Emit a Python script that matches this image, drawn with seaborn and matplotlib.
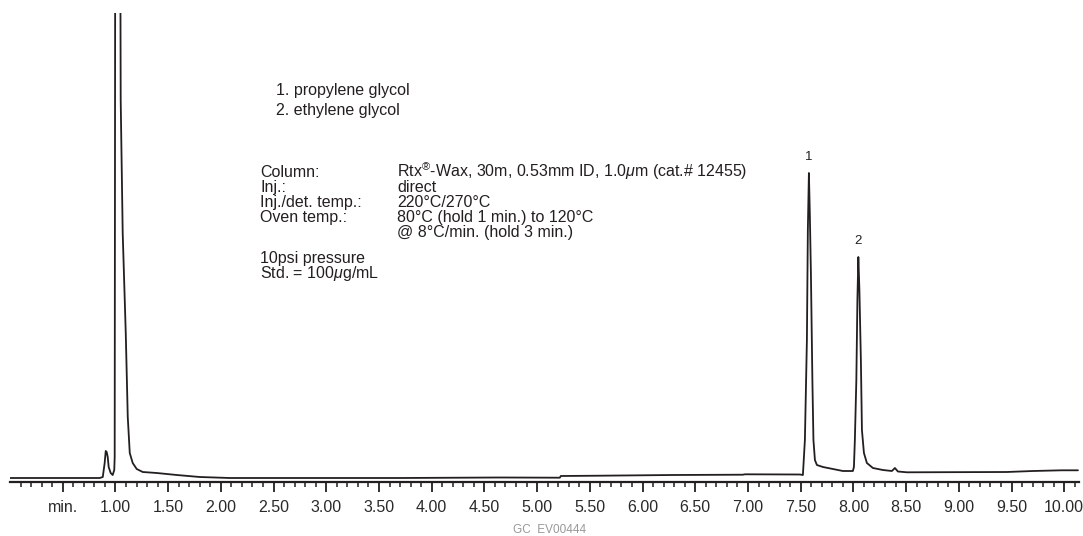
import numpy as np
import pandas as pd
import seaborn as sns
import matplotlib.pyplot as plt
from matplotlib.ticker import FixedLocator, MultipleLocator

# chromatogramme (temps en min, reponse en unites arbitraires)
retention_min = [0.000, 0.756, 0.851, 0.880, 0.898, 0.908, 0.917, 0.927, 0.936, 0.955,
                 0.974, 0.989, 0.993, 1.012, 1.050, 1.069, 1.098, 1.117, 1.136, 1.164,
                 1.202, 1.259, 1.392, 1.582, 1.800, 2.084, 2.749, 3.697, 4.646, 5.215,
                 5.225, 5.595, 6.288, 6.952, 6.971, 7.493, 7.521, 7.540, 7.559, 7.568,
                 7.578, 7.587, 7.597, 7.611, 7.621, 7.635, 7.654, 7.711, 7.806, 7.900,
                 7.995, 8.005, 8.014, 8.028, 8.038, 8.047, 8.057, 8.071, 8.081, 8.100,
                 8.128, 8.185, 8.280, 8.365, 8.394, 8.422, 8.508, 9.456, 9.703, 9.978,
                 10.130]
response = [4, 4, 4, 5, 19, 31, 30, 25, 15, 9,
            7, 12, 25, 2000, 382, 249, 149, 65, 29, 19,
            13, 10, 9, 7, 5, 4, 4, 4, 4.5, 4.3,
            6, 6.3, 7, 7.3, 7.7, 7.5, 7, 42, 142, 252,
            309, 267, 209, 102, 42, 22, 17, 15, 13, 11,
            11, 15, 42, 102, 182, 225, 192, 122, 52, 29,
            19, 14, 12, 11, 14, 10.5, 9.7, 10, 11, 11.7,
            11.7]

# pics numerotes
peak_labels = ["1", "2"]
peak_times = [7.578, 8.047]
peak_heights = [309, 225]

compounds = ["1. propylene glycol", "2. ethylene glycol"]
cond_names = ["Column:", "Inj.:", "Inj./det. temp.:", "Oven temp.:", ""]
cond_values = [r"Rtx$^{\circledR}$-Wax, 30m, 0.53mm ID, 1.0$\mu$m (cat.# 12455)", "direct",
               "220°C/270°C", "80°C (hold 1 min.) to 120°C", "@ 8°C/min. (hold 3 min.)"]
extra_notes = ["10psi pressure", r"Std. = 100$\mu$g/mL"]

major_ticks = [0.5 + 0.5 * i for i in range(20)]
major_labels = ["min."] + ["%.2f" % v for v in major_ticks[1:]]

sns.set_theme(style="white")
plt.rcParams['font.family'] = ['Liberation Sans', 'DejaVu Sans']
plt.rcParams['mathtext.fontset'] = 'custom'
plt.rcParams['mathtext.rm'] = 'Liberation Sans'
plt.rcParams['mathtext.it'] = 'Liberation Sans:italic'
ink = "#231f20"

W, H = 1083, 536
fig = plt.figure(figsize=(W / 100, H / 100), dpi=100)
ax = fig.add_axes([10 / W, 1 - 482 / H, 1069 / W, 469 / H])

df = pd.DataFrame({"t": retention_min, "r": response})
sns.lineplot(data=df, x="t", y="r", ax=ax, color=ink, linewidth=1.3, sort=False)

ax.set_xlim(0, 10.14)
ax.set_ylim(0, 469)
ax.set_xlabel("")
ax.set_ylabel("")
ax.set_yticks([])
for s in ["top", "right", "left"]:
    ax.spines[s].set_visible(False)
ax.spines["bottom"].set_color(ink)
ax.spines["bottom"].set_linewidth(1.6)

ax.xaxis.set_major_locator(FixedLocator(major_ticks))
ax.set_xticklabels(major_labels)
ax.xaxis.set_minor_locator(FixedLocator([round(0.1 * i, 1) for i in range(1, 102) if i % 5 != 0]))
ax.tick_params(axis="x", which="major", direction="out", length=7, width=1.3,
               color=ink, labelsize=11.5, labelcolor="#2a2a2a", pad=6, bottom=True)
ax.tick_params(axis="x", which="minor", direction="out", length=3.5, width=1.1,
               color=ink, bottom=True)

for lab, t, h in zip(peak_labels, peak_times, peak_heights):
    ax.annotate(lab, (t, h), xytext=(0, 7), textcoords="offset points",
                ha="center", va="bottom", fontsize=9.5, color=ink)

def px_text(x, y, s, **kw):
    fig.text(x / W, 1 - y / H, s, ha="left", va="baseline", color=ink, **kw)

px_text(276, 95, compounds[0], fontsize=11.5)
px_text(276, 115, compounds[1], fontsize=11.5)
for i, (n, v) in enumerate(zip(cond_names, cond_values)):
    px_text(260, 177 + 15 * i, n, fontsize=11.5)
    px_text(397, 177 + 15 * i, v, fontsize=11.5)
px_text(260, 263, extra_notes[0], fontsize=11.5)
px_text(260, 278, extra_notes[1], fontsize=11.5)

fig.text(550 / W, 1 - 530 / H, "GC  EV00444", ha="center", va="center",
         fontsize=8.5, color="#999999")

fig.savefig("out.png", dpi=100)
